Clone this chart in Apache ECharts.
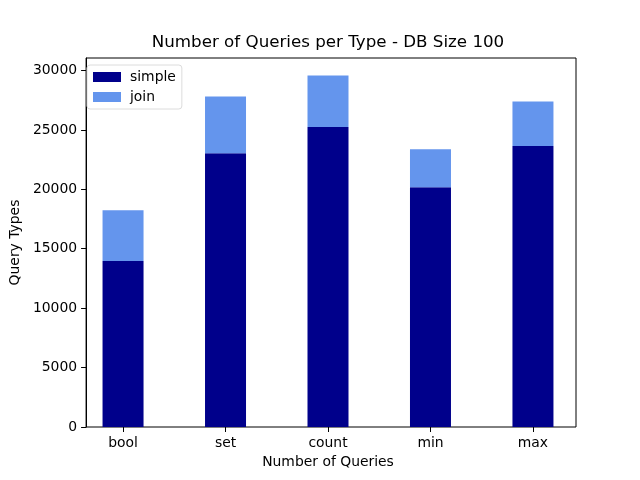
<!DOCTYPE html>
<html>
<head>
<meta charset="utf-8">
<script src="https://cdn.jsdelivr.net/npm/echarts@6/dist/echarts.min.js"></script>
<style>
  html, body { margin: 0; padding: 0; background: #fff; }
  #chart { width: 640px; height: 480px; }
</style>
</head>
<body>
<div id="chart"></div>
<script>
var queryTypes = ['bool', 'set', 'count', 'min', 'max'];
var simpleCounts = [13960, 23030, 25240, 20180, 23640];
var joinCounts = [4280, 4790, 4340, 3190, 3750];
var yTicks = [0, 5000, 10000, 15000, 20000, 25000, 30000];

var font = 'DejaVu Sans';
var myChart = echarts.init(document.getElementById('chart'));
var option = {
    animation: false,
    backgroundColor: '#ffffff',
    title: {
        text: 'Number of Queries per Type - DB Size 100',
        left: 328,
        top: 34,
        padding: 0,
        textAlign: 'center',
        textStyle: {
            fontFamily: font,
            fontSize: 16.7,
            fontWeight: 'normal',
            color: '#000'
        }
    },
    legend: {
        orient: 'vertical',
        left: 87,
        top: 65,
        padding: [5, 6, 5, 6],
        itemWidth: 28,
        itemHeight: 10,
        itemGap: 6,
        icon: 'rect',
        backgroundColor: '#fff',
        borderColor: '#dcdcdc',
        borderWidth: 1,
        borderRadius: 3,
        textStyle: {
            fontFamily: font,
            fontSize: 13.9,
            color: '#000',
            padding: [0, 0, 0, 4]
        },
        data: ['simple', 'join']
    },
    grid: [
        // bars: bands match matplotlib's x spacing
        { left: 71.8, top: 58, width: 512.4, height: 369, containLabel: false },
        // visible frame
        { left: 80, top: 58, width: 496, height: 369, show: true,
          borderColor: '#000', borderWidth: 1, backgroundColor: 'transparent', containLabel: false }
    ],
    xAxis: [
        {
            type: 'category',
            gridIndex: 0,
            data: queryTypes,
            boundaryGap: true,
            name: 'Number of Queries',
            nameLocation: 'middle',
            nameGap: 28,
            nameTextStyle: { fontFamily: font, fontSize: 13.9, color: '#000' },
            axisLine: { show: false },
            axisTick: { show: true, alignWithLabel: true, length: 5, lineStyle: { color: '#000' } },
            axisLabel: { margin: 9, fontFamily: font, fontSize: 13.9, color: '#000' },
            splitLine: { show: false }
        },
        {
            type: 'value',
            gridIndex: 1,
            show: false
        }
    ],
    yAxis: [
        {
            type: 'value',
            gridIndex: 0,
            min: 0,
            max: 31050,
            show: false
        },
        {
            type: 'value',
            gridIndex: 1,
            min: 0,
            max: 31050,
            name: 'Query Types',
            nameLocation: 'middle',
            nameGap: 58,
            nameTextStyle: { fontFamily: font, fontSize: 13.9, color: '#000' },
            axisLine: { show: true, lineStyle: { color: '#000' } },
            axisTick: { show: true, length: 5, customValues: yTicks, lineStyle: { color: '#000' } },
            axisLabel: {
                margin: 9,
                customValues: yTicks,
                formatter: function (v) { return String(v); },
                fontFamily: font,
                fontSize: 13.9,
                color: '#000'
            },
            splitLine: { show: false }
        }
    ],
    series: [
        {
            name: 'simple',
            type: 'bar',
            xAxisIndex: 0,
            yAxisIndex: 0,
            stack: 'total',
            barWidth: 41,
            itemStyle: { color: '#00008b' },
            data: simpleCounts
        },
        {
            name: 'join',
            type: 'bar',
            xAxisIndex: 0,
            yAxisIndex: 0,
            stack: 'total',
            barWidth: 41,
            itemStyle: { color: '#6495ed' },
            data: joinCounts
        }
    ]
};
myChart.setOption(option);
</script>
</body>
</html>
